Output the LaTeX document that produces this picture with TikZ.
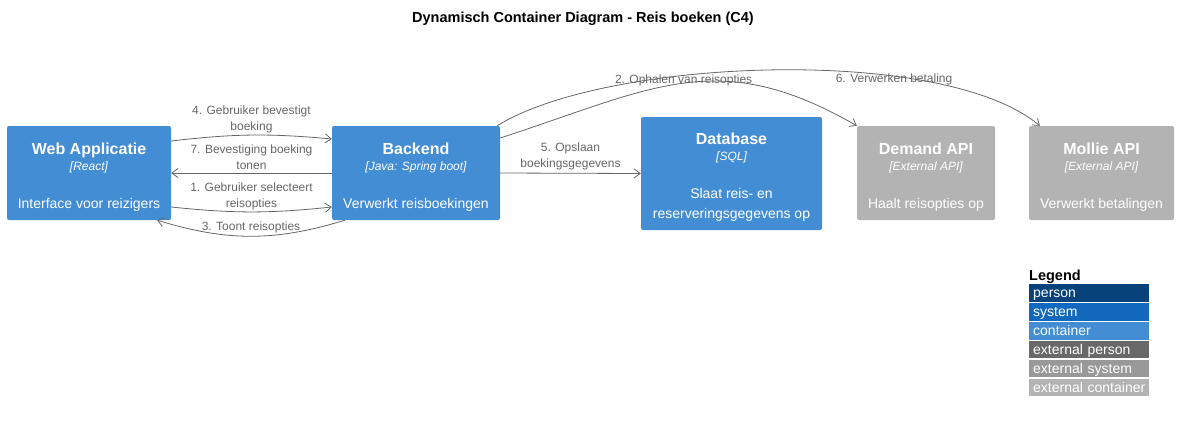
\documentclass[tikz,border=0pt]{standalone}
\usepackage{fontspec}
\setmainfont{Liberation Sans}
\usetikzlibrary{arrows.meta,positioning}

\definecolor{c4person}{HTML}{08427B}
\definecolor{c4system}{HTML}{1168BD}
\definecolor{c4container}{HTML}{438DD5}
\definecolor{c4extperson}{HTML}{686868}
\definecolor{c4extsystem}{HTML}{999999}
\definecolor{c4extcontainer}{HTML}{B3B3B3}
\definecolor{c4line}{HTML}{666666}

\newcommand{\boxtext}[3]{{\rule{0pt}{19pt}\fontsize{16}{16}\bfseries #1}\\{\fontsize{12}{16}\itshape [#2]}\\[22pt]#3}

\tikzset{
	container/.style={rectangle, rounded corners=2pt, fill=c4container, text=white, align=center,
		inner sep=0pt, minimum height=94, font=\fontsize{14}{16}\selectfont},
	extcontainer/.style={container, fill=c4extcontainer},
	rel/.style={c4line, line width=0.8pt, -{Straight Barb[length=6pt,width=9pt]}},
	rellabel/.style={text=c4line, align=center, font=\fontsize{12}{16}\selectfont, inner sep=1pt},
	legendrow/.style={rectangle, text=white, minimum width=120, minimum height=17.5, inner ysep=0pt,
		inner xsep=4pt, text width=112, text height=13.5pt, text depth=4pt, align=left,
		font=\fontsize{14}{14}\selectfont}
}

\begin{document}
\begin{tikzpicture}[x=1pt, y=-1pt]
	\useasboundingbox (0,0) rectangle (1179,421);

	% title
	\node (title) at (583,19) {\fontsize{14.5}{14.5}\bfseries Dynamisch Container Diagram - Reis boeken (C4)};

	% containers
	\node [container, minimum width=164] (web) at (89,173) {\boxtext{Web Applicatie}{React}{Interface voor reizigers}};
	\node [container, minimum width=168] (back) at (416,173) {\boxtext{Backend}{Java: Spring boot}{Verwerkt reisboekingen}};
	\node [container, minimum width=181, minimum height=113] (db) at (731.5,173.5) {\boxtext{Database}{SQL}{Slaat reis- en\\[4pt]reserveringsgegevens op}};
	\node [extcontainer, minimum width=138] (demand) at (926,173) {\boxtext{Demand API}{External API}{Haalt reisopties op}};
	\node [extcontainer, minimum width=145] (mollie) at (1101.5,173) {\boxtext{Mollie API}{External API}{Verwerkt betalingen}};

	% relations
	\draw [rel] ([yshift=-34]web.east) to [bend right=6] node [rellabel, midway, above=1pt] (r1) {1. Gebruiker selecteert\\reisopties} ([yshift=-34]back.west);
	\draw [rel] ([yshift=35]back.east) to [out=18, in=150, looseness=1.15] node [rellabel, pos=0.5, yshift=3] (r2) {2. Ophalen van reisopties} (demand.north west);
	\draw [rel] ([xshift=13]back.south west) to [bend left=17] node [rellabel, midway, above=2pt] (r3) {3. Toont reisopties} ([xshift=-14]web.south east);
	\draw [rel] ([yshift=32]web.east) to [bend left=6] node [rellabel, midway, above=1pt] (r4) {4. Gebruiker bevestigt\\boeking} ([yshift=34]back.west);
	\draw [rel] (back.east) -- node [rellabel, midway, above=2pt] (r5) {5. Opslaan\\boekingsgegevens} (db.west);
	\draw [rel] ([xshift=-3]back.north east) to [out=32, in=140, looseness=0.6] node [rellabel, pos=0.69, yshift=-3] (r6) {6. Verwerken betaling} ([xshift=11]mollie.north west);
	\draw [rel] (back.west) -- node [rellabel, midway, above=2pt] (r7) {7. Bevestiging boeking\\tonen} (web.east);

	% legend
	\node [anchor=west, inner sep=0pt] (legend) at (1029,277) {\fontsize{14.5}{14.5}\bfseries Legend};
	\node [legendrow, fill=c4person, anchor=north west] (lg1) at (1029,284) {person};
	\node [legendrow, fill=c4system, below=1pt of lg1] (lg2) {system};
	\node [legendrow, fill=c4container, below=1pt of lg2] (lg3) {container};
	\node [legendrow, fill=c4extperson, below=1pt of lg3] (lg4) {external person};
	\node [legendrow, fill=c4extsystem, below=1pt of lg4] (lg5) {external system};
	\node [legendrow, fill=c4extcontainer, below=1pt of lg5] (lg6) {\mbox{external container}};
\end{tikzpicture}
\end{document}
